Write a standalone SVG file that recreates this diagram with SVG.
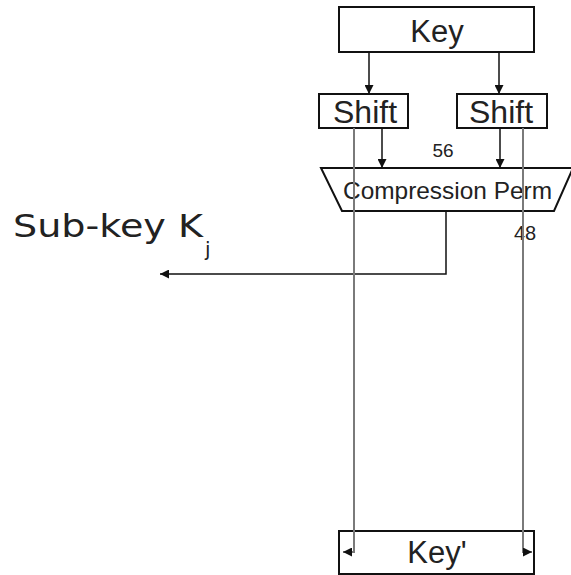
<svg xmlns="http://www.w3.org/2000/svg" width="571" height="575" viewBox="0 0 571 575">
<style>
.box{fill:#fff;stroke:#111;stroke-width:2}
.t{font-family:"Liberation Sans",Arial,sans-serif;fill:#222;text-anchor:middle}
.arr{fill:none;stroke:#111;stroke-width:1.5}
.gray{fill:none;stroke:#7a7a7a;stroke-width:2}
</style>
<defs>
<marker id="ah" viewBox="0 0 10 10" refX="10" refY="5" markerWidth="9" markerHeight="9" markerUnits="userSpaceOnUse" orient="auto">
<path d="M0,0 L10,5 L0,10 z" fill="#111"/>
</marker>
</defs>
<rect width="571" height="575" fill="#fff"/>
<g id="key">
<rect class="box" x="339" y="7" width="195" height="45"/>
<text class="t" x="437" y="42" font-size="31">Key</text>
</g>
<g id="shift-left">
<rect class="box" x="319" y="94" width="89" height="34"/>
<text class="t" x="365" y="123" font-size="32">Shift</text>
</g>
<g id="shift-right">
<rect class="box" x="457" y="94" width="90" height="34"/>
<text class="t" x="501" y="123" font-size="32">Shift</text>
</g>
<g id="compression">
<polygon class="box" points="321,168 573,168 554,211 342,211"/>
<text class="t" x="447.5" y="199" font-size="24" textLength="209" lengthAdjust="spacingAndGlyphs">Compression Perm</text>
</g>
<g id="key-prime">
<rect class="box" x="339" y="531" width="195" height="43"/>
<text class="t" x="437" y="563" font-size="31">Key'</text>
</g>
<g id="labels">
<text class="t" x="443" y="157" font-size="19">56</text>
<text class="t" x="525" y="240" font-size="20">48</text>
<text x="13" y="237" font-family="DejaVu Sans,Verdana,sans-serif" font-size="32" fill="#222" textLength="190" lengthAdjust="spacingAndGlyphs">Sub-key K</text>
<text x="205" y="256" font-family="DejaVu Sans,Verdana,sans-serif" font-size="20" fill="#222">j</text>
</g>
<g id="connectors">
<line class="arr" x1="369" y1="52" x2="369" y2="94" marker-end="url(#ah)"/>
<line class="arr" x1="499" y1="52" x2="499" y2="94" marker-end="url(#ah)"/>
<line class="arr" x1="382" y1="128" x2="382" y2="168" marker-end="url(#ah)"/>
<line class="arr" x1="500" y1="128" x2="500" y2="168" marker-end="url(#ah)"/>
<polyline class="arr" points="446,211 446,274 160,274" marker-end="url(#ah)"/>
<polyline class="gray" points="354,128 354,552 343,552" marker-end="url(#ah)"/>
<polyline class="gray" points="523,128 523,552 532,552" marker-end="url(#ah)"/>
</g>
</svg>
